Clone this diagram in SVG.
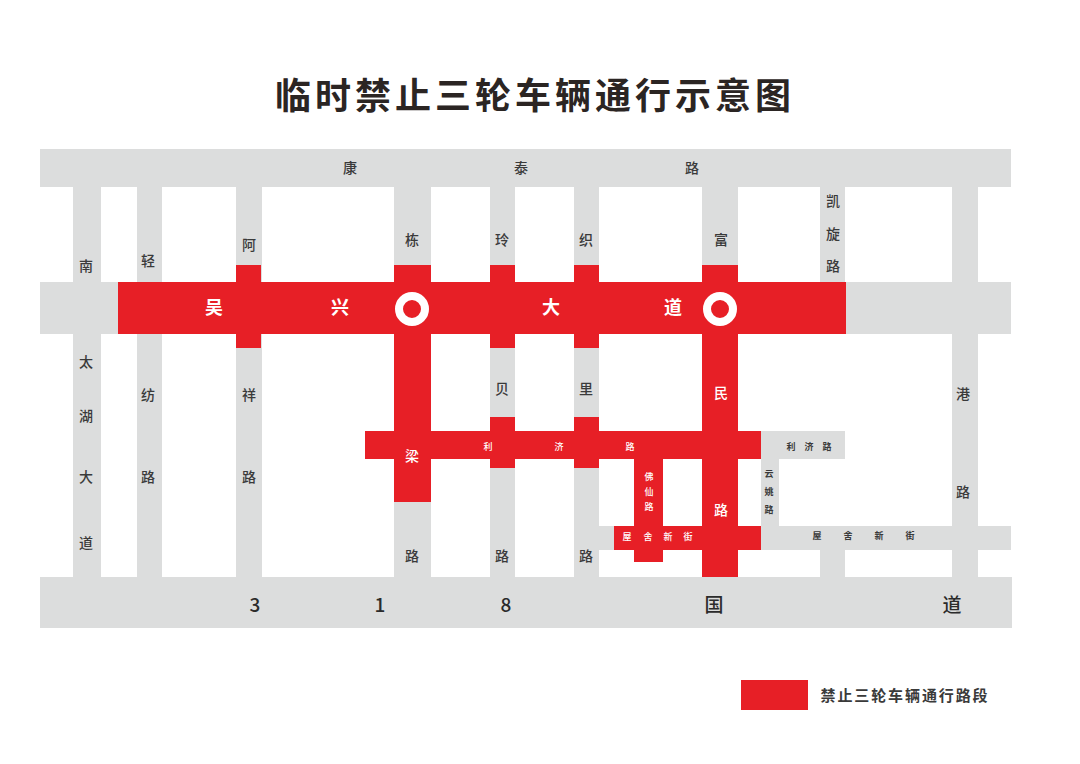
<svg xmlns="http://www.w3.org/2000/svg" width="1080" height="764" viewBox="0 0 1080 764">
<style>
text{font-family:"Noto Sans CJK SC","Noto Sans",sans-serif;text-anchor:middle;dominant-baseline:central}
.g{fill:#dcdddd}.r{fill:#e71f26}
.d{fill:#3a3a3a;font-size:14px;font-weight:500}
.ds{fill:#3a3a3a;font-size:9px;font-weight:700}
.w{fill:#fff;font-size:18px;font-weight:700}
.wm{fill:#fff;font-size:14px;font-weight:500}
.ws{fill:#fff;font-size:9px;font-weight:500}
.b{fill:#2b2b2b;font-size:19px;font-weight:500}
</style>
<rect width="1080" height="764" fill="#fff"/>
<g id="grey-roads" class="g">
<rect x="40" y="149" width="971" height="38"/>
<rect x="40" y="282" width="971" height="52"/>
<rect x="40" y="577" width="972" height="51"/>
<rect x="73" y="187" width="28" height="390"/>
<rect x="137" y="187" width="25" height="390"/>
<rect x="236" y="187" width="26" height="390"/>
<rect x="394" y="187" width="37" height="390"/>
<rect x="490" y="187" width="25" height="390"/>
<rect x="574" y="187" width="25" height="390"/>
<rect x="702" y="187" width="36" height="95"/>
<rect x="820" y="187" width="25" height="95"/>
<rect x="952" y="187" width="26" height="390"/>
<rect x="820" y="550" width="25" height="27"/>
<rect x="761" y="431" width="84" height="28"/>
<rect x="761" y="431" width="18" height="119"/>
<rect x="599" y="526" width="412" height="24"/>
</g>
<g id="red-roads" class="r">
<rect x="118" y="282" width="728" height="52"/>
<rect x="236" y="265" width="25" height="83"/>
<rect x="394" y="265" width="37" height="237"/>
<rect x="490" y="265" width="25" height="83"/>
<rect x="574" y="265" width="25" height="83"/>
<rect x="702" y="265" width="36" height="312"/>
<rect x="365" y="431" width="396" height="28"/>
<rect x="490" y="417" width="25" height="51"/>
<rect x="574" y="417" width="25" height="51"/>
<rect x="634" y="459" width="29" height="103"/>
<rect x="614" y="526" width="147" height="24"/>
</g>
<g id="roundabouts" fill="none" stroke="#fff" stroke-width="8">
<circle cx="412" cy="309" r="13"/>
<circle cx="720" cy="309" r="13"/>
</g>
<text x="535" y="93" style="font-size:36px;font-weight:700;fill:#2b2523;letter-spacing:4px">临时禁止三轮车辆通行示意图</text>
<g id="labels-dark" class="d" transform="translate(0,-1)">
<text x="350" y="168">康</text><text x="521" y="168">泰</text><text x="692" y="168">路</text>
<text x="86" y="266">南</text><text x="86" y="362">太</text><text x="86" y="416">湖</text><text x="86" y="477">大</text><text x="86" y="543">道</text>
<text x="148" y="261">轻</text><text x="148" y="395">纺</text><text x="148" y="477">路</text>
<text x="249" y="245">阿</text><text x="249" y="395">祥</text><text x="249" y="477">路</text>
<text x="412" y="240">栋</text><text x="412" y="556">路</text>
<text x="502" y="240">玲</text><text x="502" y="389">贝</text><text x="502" y="556">路</text>
<text x="586" y="240">织</text><text x="586" y="389">里</text><text x="586" y="556">路</text>
<text x="721" y="240">富</text>
<text x="833" y="201">凯</text><text x="833" y="234">旋</text><text x="833" y="266">路</text>
<text x="963" y="394">港</text><text x="963" y="492">路</text>
</g>
<g id="labels-bottom" class="b" transform="translate(0,-1)">
<text x="255" y="604">3</text><text x="380" y="604">1</text><text x="506" y="604">8</text><text x="714" y="604">国</text><text x="952" y="604">道</text>
</g>
<g id="labels-small-dark" class="ds" transform="translate(0,-1)">
<text x="791" y="447">利</text><text x="809" y="447">济</text><text x="827" y="447">路</text>
<text x="769" y="474">云</text><text x="769" y="492">姚</text><text x="769" y="510">路</text>
<text x="817" y="536">屋</text><text x="848" y="536">舍</text><text x="879" y="536">新</text><text x="910" y="536">街</text>
</g>
<g id="labels-white" class="w" transform="translate(0,-1)">
<text x="214" y="307">吴</text><text x="340" y="307">兴</text><text x="551" y="307">大</text><text x="673" y="307">道</text>
</g>
<g id="labels-white-mid" class="wm" transform="translate(0,-1)">
<text x="412" y="456">梁</text><text x="721" y="393">民</text><text x="721" y="510">路</text>
</g>
<g id="labels-small-white" class="ws" transform="translate(0,-1)">
<text x="488" y="447">利</text><text x="559" y="447">济</text><text x="630" y="447">路</text>
<text x="649" y="477">佛</text><text x="649" y="492">仙</text><text x="649" y="507">路</text>
<text x="627" y="537">屋</text><text x="648" y="537">舍</text><text x="668" y="537">新</text><text x="688" y="537">街</text>
</g>
<g id="legend">
<rect x="741" y="680" width="67" height="30" class="r"/>
<text x="905" y="694" style="font-size:15px;font-weight:700;fill:#3a3a3a;letter-spacing:1.9px">禁止三轮车辆通行路段</text>
</g>
</svg>
